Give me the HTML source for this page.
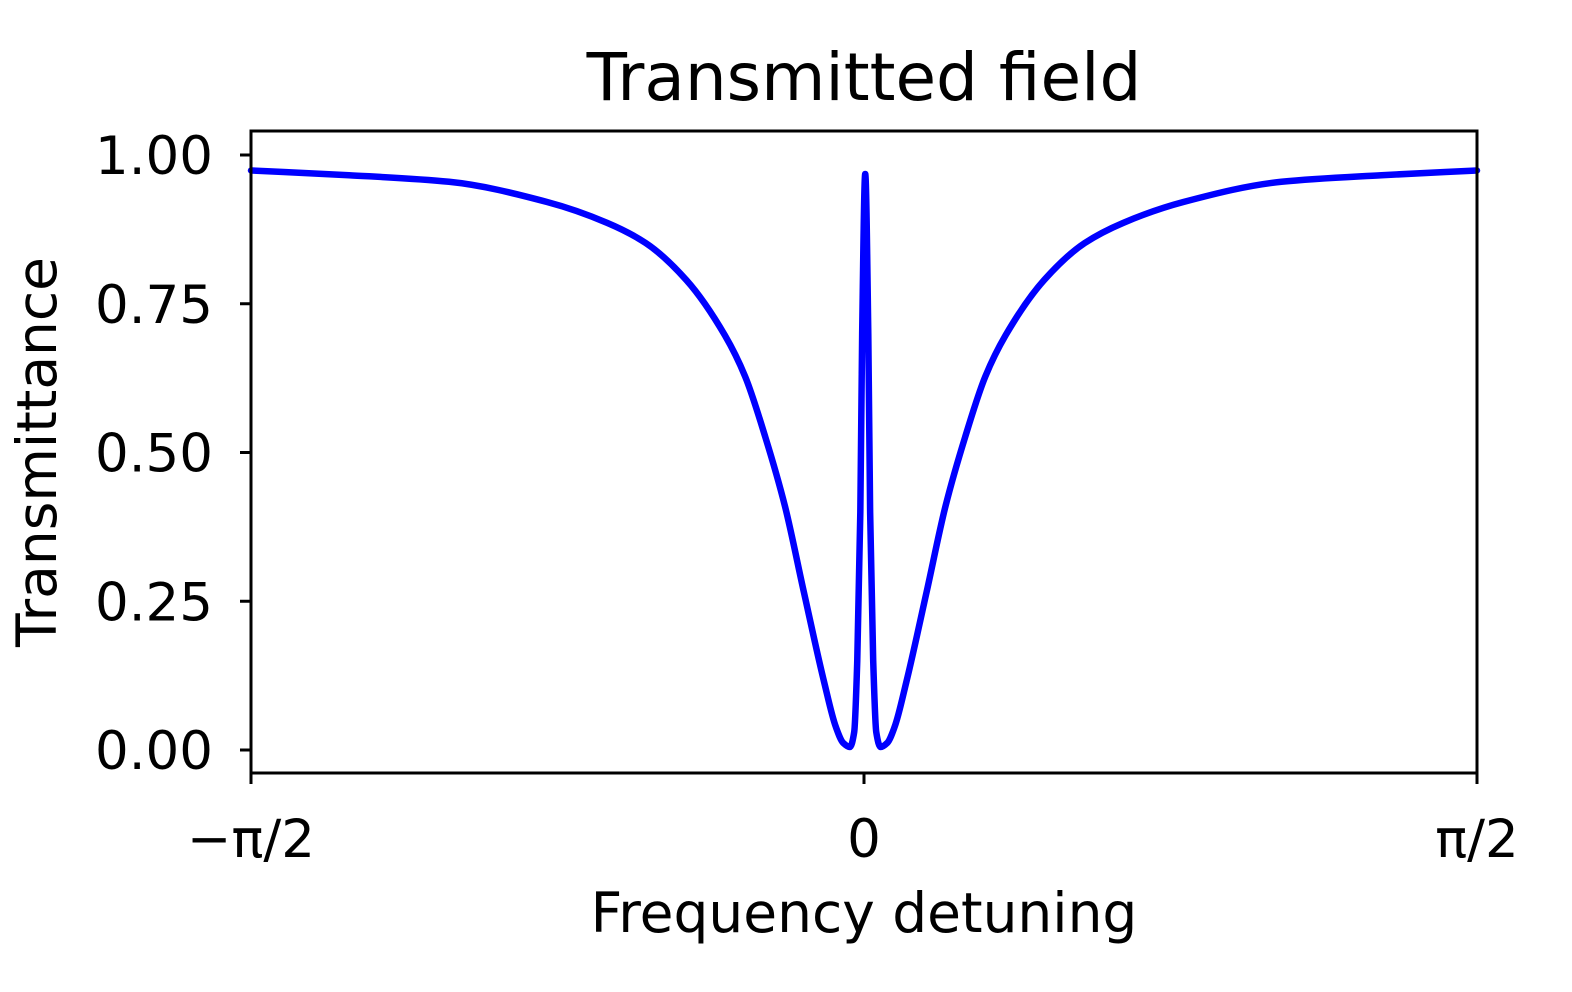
<!DOCTYPE html>
<html><head><meta charset="utf-8"><style>
html,body{margin:0;background:#fff;overflow:hidden;}
svg{display:block;}
svg text{font-family:"DejaVu Sans","Liberation Sans",sans-serif;fill:#000;}
</style></head><body>
<svg width="1572" height="992">
<text x="864" y="100" font-size="66" text-anchor="middle">Transmitted field</text>
<g id="ticks"></g>
<path id="curve" fill="none" stroke="#0000ff" stroke-width="6.5" stroke-linejoin="round" stroke-linecap="round"></path>
<rect x="251" y="131" width="1226" height="642" fill="none" stroke="#000" stroke-width="3"></rect>
<text x="864" y="932" font-size="55" text-anchor="middle">Frequency detuning</text>
<text transform="translate(56,452) rotate(-90)" font-size="55" text-anchor="middle">Transmittance</text>
</svg>
<script>
// detuning in units of pi/2
const detuning=[-1,-0.84,-0.677,-0.517,-0.419,-0.356,-0.290,-0.227,-0.194,-0.161,-0.129,-0.098,-0.065,-0.046,-0.034,-0.023,-0.016,-0.011,-0.006,-0.003,0.002,0.007,0.010,0.015,0.020,0.027,0.038,0.050,0.069,0.102,0.133,0.165,0.198,0.231,0.294,0.360,0.423,0.521,0.681,0.844,1];
const transmittance=[0.974,0.966,0.955,0.921,0.886,0.852,0.790,0.697,0.628,0.526,0.410,0.265,0.114,0.039,0.012,0.005,0.03,0.15,0.4,0.7,0.968,0.7,0.4,0.15,0.03,0.005,0.012,0.039,0.114,0.265,0.410,0.526,0.628,0.697,0.790,0.852,0.886,0.921,0.955,0.966,0.974];
const yTicks=[0,0.25,0.5,0.75,1.0];
const yTickLabels=["0.00","0.25","0.50","0.75","1.00"];
const xTicks=[-1,0,1];
const xTickLabels=["−π/2","0","π/2"];
const X=u=>864+u*613, Y=v=>750-v*595;
const NS="http://www.w3.org/2000/svg";
const g=document.getElementById('ticks');
yTicks.forEach((t,i)=>{
  const l=document.createElementNS(NS,'line');
  l.setAttribute('x1',240);l.setAttribute('x2',251);l.setAttribute('y1',Y(t));l.setAttribute('y2',Y(t));l.setAttribute('stroke','#000');l.setAttribute('stroke-width',3);
  
  
  g.appendChild(l);
  const tx=document.createElementNS(NS,'text');
  tx.setAttribute('x',213);tx.setAttribute('y',Y(t)+19);tx.setAttribute('font-size',53);tx.setAttribute('text-anchor','end');
  tx.textContent=yTickLabels[i];
  
  
  g.appendChild(tx);
});
xTicks.forEach((t,i)=>{
  const l=document.createElementNS(NS,'line');
  l.setAttribute('x1',X(t));l.setAttribute('x2',X(t));l.setAttribute('y1',773);l.setAttribute('y2',784);l.setAttribute('stroke','#000');l.setAttribute('stroke-width',3);
  
  
  g.appendChild(l);
  const tx=document.createElementNS(NS,'text');
  tx.setAttribute('x',X(t));tx.setAttribute('y',857);tx.setAttribute('font-size',53);tx.setAttribute('text-anchor','middle');
  tx.textContent=xTickLabels[i];
  
  
  g.appendChild(tx);
});
// monotone cubic (Fritsch-Carlson) through the data points
const xs=detuning.map(X), ys=transmittance.map(Y), n=xs.length;
const dl=[],m=new Array(n);
for(let i=0;i<n-1;i++) dl.push((ys[i+1]-ys[i])/(xs[i+1]-xs[i]));
m[0]=dl[0]; m[n-1]=dl[n-2];
for(let i=1;i<n-1;i++){
  if(dl[i-1]*dl[i]<=0) m[i]=0;
  else{const h0=xs[i]-xs[i-1],h1=xs[i+1]-xs[i];const w1=2*h1+h0,w2=h1+2*h0;m[i]=(w1+w2)/(w1/dl[i-1]+w2/dl[i]);}
}
let d='M'+xs[0]+','+ys[0];
for(let i=0;i<n-1;i++){
  const h=(xs[i+1]-xs[i])/3;
  d+=' C'+(xs[i]+h)+','+(ys[i]+m[i]*h)+' '+(xs[i+1]-h)+','+(ys[i+1]-m[i+1]*h)+' '+xs[i+1]+','+ys[i+1];
}
document.getElementById('curve').setAttribute('d',d);
</script>
</body></html>
